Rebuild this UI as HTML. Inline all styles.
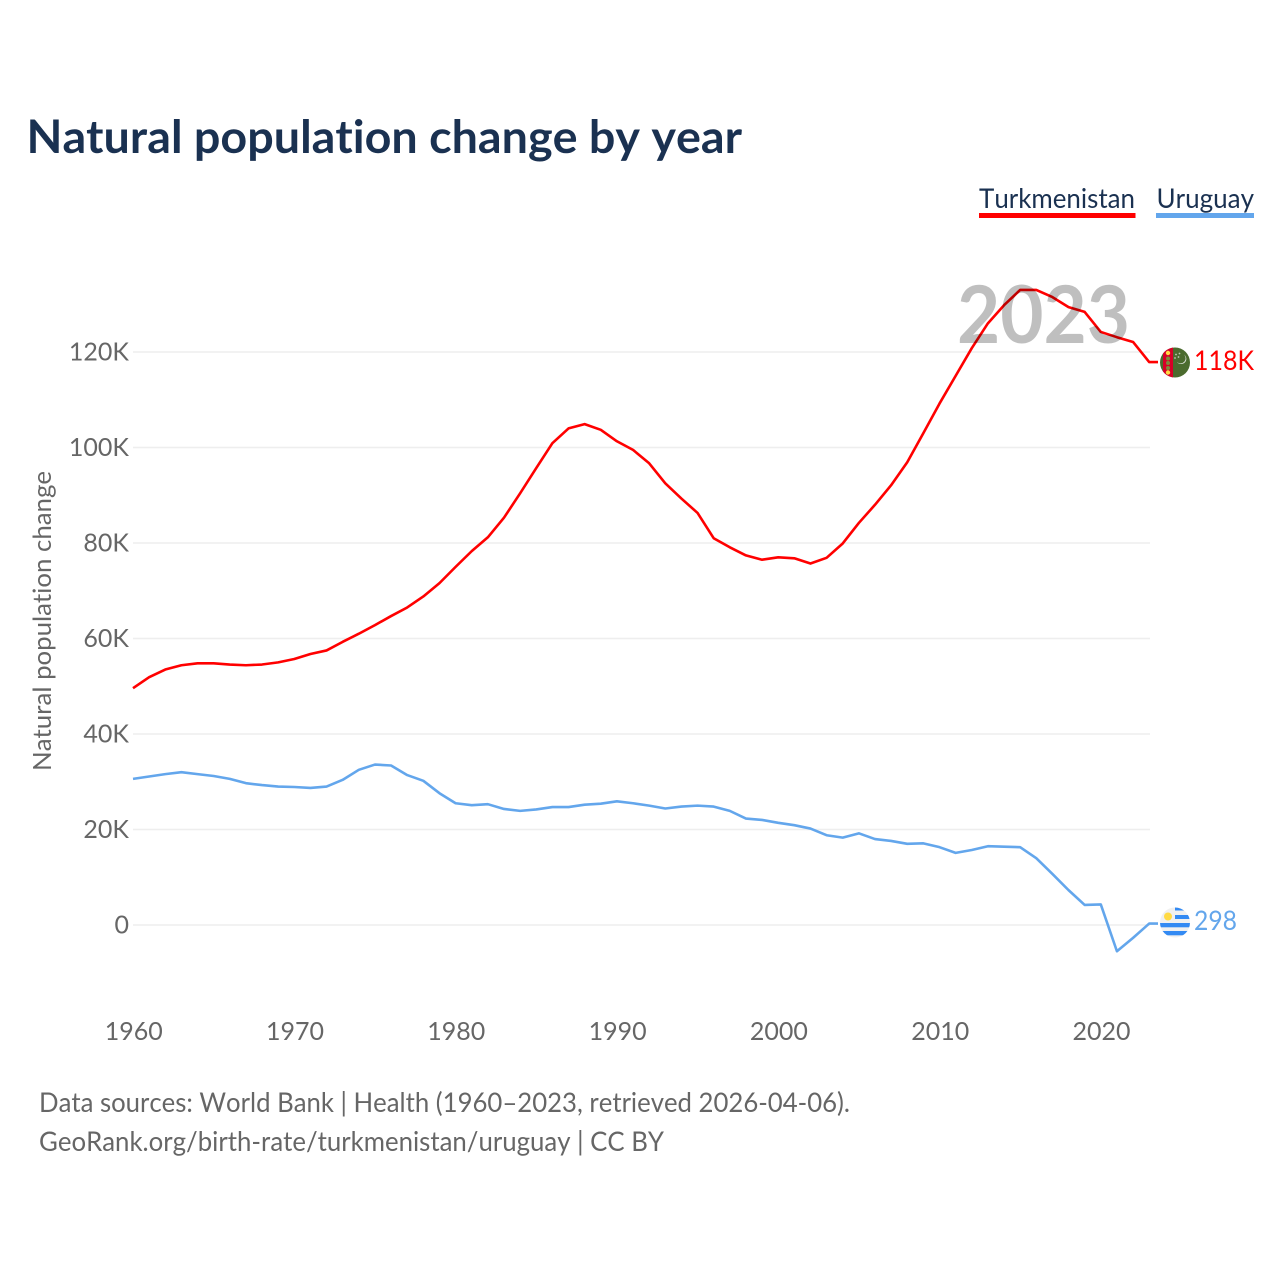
<!DOCTYPE html>
<html>
<head>
<meta charset="utf-8">
<title>Natural population change by year</title>
<style>
html,body{margin:0;padding:0;background:#fff;}
svg{display:block;font-family:"Lato","Carlito","Liberation Sans",sans-serif;font-variant-ligatures:none;font-kerning:none;}
</style>
</head>
<body>
<svg id="chart" width="1280" height="1280" viewBox="0 0 1280 1280" xmlns="http://www.w3.org/2000/svg">
  <defs>
    <clipPath id="clip-tm"><circle cx="1175" cy="362.5" r="15"></circle></clipPath>
    <clipPath id="clip-uy"><circle cx="1175" cy="922.5" r="15"></circle></clipPath>
  </defs>
  <rect x="0" y="0" width="1280" height="1280" fill="#fff"></rect>
  <text x="26.5" y="153" font-size="46" font-weight="700" fill="#1a3151" textLength="715.5" lengthAdjust="spacingAndGlyphs">Natural population change by year</text>

  <g>
    <g>
      <text x="979" y="208" font-size="27" fill="#1a3151" textLength="156" lengthAdjust="spacingAndGlyphs">Turkmenistan</text>
      <rect x="979" y="213" width="156.5" height="5" fill="#ff0000"></rect>
    </g>
    <g>
      <text x="1156.5" y="208" font-size="27" fill="#1a3151" textLength="97.5" lengthAdjust="spacingAndGlyphs">Uruguay</text>
      <rect x="1156" y="213" width="98" height="5" fill="#63a6ec"></rect>
    </g>
  </g>

  <g id="grid"></g>
  <g id="yticks"></g>
  <g id="xticks"></g>
  <text transform="translate(51,771) rotate(-90)" font-size="25" fill="#666666" textLength="300" lengthAdjust="spacingAndGlyphs">Natural population change</text>

  <g id="series"></g>

  <text x="957" y="343" font-size="80" font-weight="700" fill="#000000" fill-opacity="0.25" textLength="173" lengthAdjust="spacingAndGlyphs">2023</text>

  <g clip-path="url(#clip-tm)">
    <rect x="1160" y="347" width="30" height="31" fill="#4b6b2e"></rect>
    <rect x="1163" y="347" width="10" height="31" fill="#d80027"></rect>
    <circle cx="1168" cy="353" r="2.2" fill="#ffda44"></circle>
    <circle cx="1168" cy="358.5" r="2" fill="#7d8a3a"></circle>
    <circle cx="1168" cy="363" r="2" fill="#7d8a3a"></circle>
    <circle cx="1168" cy="368" r="2" fill="#7d8a3a"></circle>
    <circle cx="1168" cy="372.5" r="2.2" fill="#ffda44"></circle>
    <path d="M1184 354.5 A5.2 5.2 0 1 1 1177 362 A5 5 0 0 0 1184 354.5 Z" fill="#f0f0f0" fill-opacity="0.9"></path>
    <circle cx="1176" cy="354.5" r="0.9" fill="#f0f0f0" fill-opacity="0.7"></circle>
    <circle cx="1179.5" cy="353.5" r="0.9" fill="#f0f0f0" fill-opacity="0.7"></circle>
    <circle cx="1175" cy="358" r="0.9" fill="#f0f0f0" fill-opacity="0.7"></circle>
    <circle cx="1178.5" cy="357" r="0.9" fill="#f0f0f0" fill-opacity="0.7"></circle>
  </g>
  <g clip-path="url(#clip-uy)">
    <rect x="1160" y="907" width="30" height="31" fill="#f0f0f0"></rect>
    <rect x="1175" y="907" width="15" height="3.5" fill="#338af3"></rect>
    <rect x="1175" y="915" width="15" height="4" fill="#338af3"></rect>
    <rect x="1160" y="923" width="30" height="4.3" fill="#338af3"></rect>
    <rect x="1160" y="931" width="30" height="4.3" fill="#338af3"></rect>
    <circle cx="1168" cy="916.5" r="4" fill="#ffda44"></circle>
  </g>

  <text x="1194" y="370" font-size="27" fill="#ff0000" textLength="60" lengthAdjust="spacingAndGlyphs">118K</text>
  <text x="1194" y="930" font-size="27" fill="#63a6ec" textLength="43" lengthAdjust="spacingAndGlyphs">298</text>

  <text x="39" y="1112" font-size="27" fill="#666666" textLength="811" lengthAdjust="spacingAndGlyphs">Data sources: World Bank | Health (1960–2023, retrieved 2026-04-06).</text>
  <text x="39" y="1151" font-size="27" fill="#666666" textLength="625" lengthAdjust="spacingAndGlyphs">GeoRank.org/birth-rate/turkmenistan/uruguay | CC BY</text>
</svg>
<script>
const startYear = 1960;
const turkmenistanK = [49.6,51.9,53.5,54.4,54.8,54.8,54.55,54.4,54.55,55.0,55.7,56.75,57.5,59.3,61.0,62.8,64.7,66.5,68.8,71.6,75.0,78.3,81.2,85.3,90.4,95.7,100.9,104.0,104.9,103.7,101.3,99.5,96.7,92.5,89.3,86.3,81.0,79.1,77.4,76.5,77.0,76.8,75.7,76.9,79.9,84.2,88.0,92.1,96.9,103.0,109.2,115.0,120.8,126.0,129.8,133.0,133.0,131.5,129.4,128.4,124.2,123.1,122.1,117.9];
const uruguayK = [30.6,31.1,31.6,32.0,31.6,31.2,30.6,29.7,29.3,29.0,28.9,28.7,29.0,30.4,32.5,33.6,33.4,31.4,30.2,27.6,25.5,25.1,25.3,24.3,23.9,24.2,24.7,24.7,25.2,25.4,25.9,25.5,25.0,24.4,24.8,25.0,24.8,23.9,22.3,22.0,21.4,20.9,20.2,18.8,18.3,19.2,18.0,17.6,17.0,17.1,16.3,15.1,15.7,16.5,16.4,16.3,14.0,10.7,7.3,4.2,4.3,-5.5,-2.7,0.298];
const yTickValues = [0,20,40,60,80,100,120];
const yTickLabels = ["0","20K","40K","60K","80K","100K","120K"];
const xTickYears = [1960,1970,1980,1990,2000,2010,2020];

const NS = "http://www.w3.org/2000/svg";
function xScale(year){ return 133 + (year - 1960) * 16.13; }
function yScale(k){ return 925 - k * 4.775; }
function make(tag, attrs, parent){
  const el = document.createElementNS(NS, tag);
  for (const key in attrs) el.setAttribute(key, attrs[key]);
  parent.appendChild(el);
  return el;
}
const grid = document.getElementById("grid");
const yticks = document.getElementById("yticks");
const xticks = document.getElementById("xticks");
const series = document.getElementById("series");

yTickValues.forEach(function(v, i){
  const line = make("line", {x1:133, x2:1150, y1:yScale(v), y2:yScale(v), stroke:"#eeeeee", "stroke-width":1.6}, grid);
  
  
  const t = make("text", {x:129, y:yScale(v)+8.5, "text-anchor":"end", "font-size":25, fill:"#666666"}, yticks);
  
  
  t.textContent = yTickLabels[i];
});
xTickYears.forEach(function(year){
  const t = make("text", {x:xScale(year) + 0.7, y:1040, "text-anchor":"middle", "font-size":25, fill:"#666666"}, xticks);
  
  
  t.textContent = String(year);
});
function drawLine(values, color, name){
  const pts = values.map(function(v, i){ return xScale(startYear + i).toFixed(2) + "," + yScale(v).toFixed(2); });
  const lastY = yScale(values[values.length - 1]).toFixed(2);
  pts.push("1158," + lastY);
  const line = make("polyline", {points:pts.join(" "), fill:"none", stroke:color, "stroke-width":2.6, "stroke-linejoin":"round"}, series);
  
  
}
drawLine(uruguayK, "#63a6ec", "line-uruguay");
drawLine(turkmenistanK, "#ff0000", "line-turkmenistan");
</script>
</body>
</html>
